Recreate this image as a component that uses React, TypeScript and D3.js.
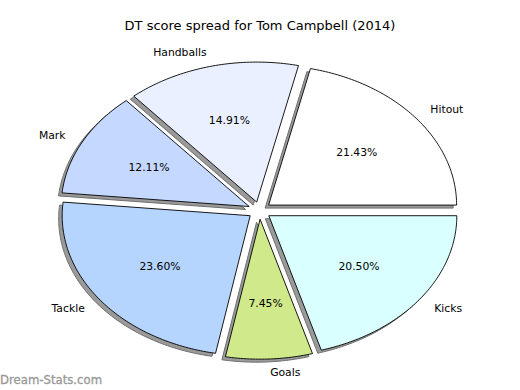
import React from "react";
import * as d3 from "d3";

const categories = ["Hitout", "Handballs", "Mark", "Tackle", "Goals", "Kicks"];
const values = [21.43, 14.91, 12.11, 23.6, 7.45, 20.5];
const colors = ["#ffffff", "#eaf0ff", "#c5d8ff", "#b5d5ff", "#d0e98b", "#d9ffff"];
const title = "DT score spread for Tom Campbell (2014)";
const watermark = "Dream-Stats.com";

const W = 520, H = 390;
const cx = 259.5, cy = 210.5, rx = 188, ry = 140;
const explode = 0.062;
const shadowDx = -3.5, shadowDy = 3;

export default function App() {
  const pie = d3
    .pie<number>()
    .sort(null)
    .startAngle(Math.PI / 2)
    .endAngle(Math.PI / 2 - 2 * Math.PI)
    .value((d) => d);
  const arcs = pie(values);
  const line = d3.line<[number, number]>();

  const wedges = arcs.map((a, i) => {
    const mid = (a.startAngle + a.endAngle) / 2;
    const ox = cx + explode * rx * Math.sin(mid);
    const oy = cy - explode * ry * Math.cos(mid);
    const n = Math.max(8, Math.ceil(Math.abs(a.endAngle - a.startAngle) * 60));
    const pts: [number, number][] = [[ox, oy]];
    for (let k = 0; k <= n; k++) {
      const t = a.startAngle + ((a.endAngle - a.startAngle) * k) / n;
      pts.push([ox + rx * Math.sin(t), oy - ry * Math.cos(t)]);
    }
    const d = line(pts) + "Z";
    const lx = ox + 1.1 * rx * Math.sin(mid);
    const ly = oy - 1.1 * ry * Math.cos(mid);
    const px = ox + 0.6 * rx * Math.sin(mid);
    const py = oy - 0.6 * ry * Math.cos(mid);
    const anchor = Math.sin(mid) >= 0 ? "start" : "end";
    return { d, lx, ly, px, py, anchor, i };
  });

  return (
    <svg width={W} height={H} style={{ position: "absolute", left: 0, top: 0 }} fontFamily="DejaVu Sans">
      <rect width={W} height={H} fill="#fff" />
      <text x={260} y={30} textAnchor="middle" fontSize={13} fill="#000">
        {title}
      </text>
      {wedges.map((w) => (
        <path
          key={"s" + w.i}
          d={w.d}
          transform={`translate(${shadowDx},${shadowDy})`}
          fill="#9a9a9a"
          stroke="#707070"
          strokeWidth={1}
        />
      ))}
      {wedges.map((w) => (
        <path key={"w" + w.i} d={w.d} fill={colors[w.i]} stroke="#000" strokeWidth={0.9} strokeLinejoin="miter" />
      ))}
      {wedges.map((w) => (
        <text
          key={"l" + w.i}
          x={w.lx}
          y={w.ly}
          textAnchor={w.anchor}
          dominantBaseline="central"
          fontSize={10.8}
          fill="#000"
        >
          {categories[w.i]}
        </text>
      ))}
      {wedges.map((w) => (
        <text
          key={"p" + w.i}
          x={w.px}
          y={w.py}
          textAnchor="middle"
          dominantBaseline="central"
          fontSize={10.8}
          fill="#000"
        >
          {values[w.i].toFixed(2) + "%"}
        </text>
      ))}
      <text x={0} y={384} fontSize={11.7} fill="#999" stroke="#999" strokeWidth={0.3}>
        {watermark}
      </text>
    </svg>
  );
}
